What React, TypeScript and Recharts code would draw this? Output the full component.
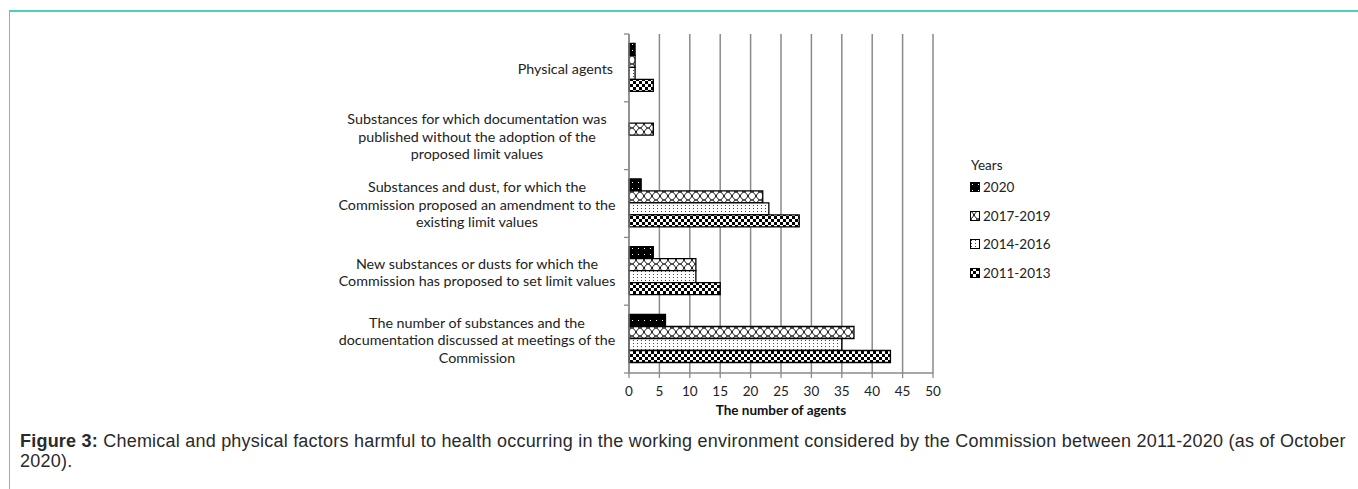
import { BarChart, Bar, XAxis, YAxis, CartesianGrid } from 'recharts';

// categories top to bottom, "\n" marks the wrapped lines of each label
const categories = [
  'Physical agents',
  'Substances for which documentation was\npublished without the adoption of the\nproposed limit values',
  'Substances and dust, for which the\nCommission proposed an amendment to the\nexisting limit values',
  'New substances or dusts for which the\nCommission has proposed to set limit values',
  'The number of substances and the\ndocumentation discussed at meetings of the\nCommission',
];

const years2020 = [1, 0, 2, 4, 6];
const years2017to2019 = [1, 4, 22, 11, 37];
const years2014to2016 = [1, 0, 23, 11, 35];
const years2011to2013 = [4, 0, 28, 15, 43];

const xTicks = [0, 5, 10, 15, 20, 25, 30, 35, 40, 45, 50];

const series = [
  { key: 'y2020', name: '2020', pattern: 'pat-2020' },
  { key: 'y2017', name: '2017-2019', pattern: 'pat-2017' },
  { key: 'y2014', name: '2014-2016', pattern: 'pat-2014' },
  { key: 'y2011', name: '2011-2013', pattern: 'pat-2011' },
];

const data = categories.map((name, i) => ({
  name,
  y2020: years2020[i],
  y2017: years2017to2019[i],
  y2014: years2014to2016[i],
  y2011: years2011to2013[i],
}));

const FONT = 'Lato, "Open Sans", sans-serif';
const AXIS_GRAY = '#8a8a8a';
const CHART_W = 1358;
const CHART_H = 430;
const MARGIN = { top: 34, right: 425, bottom: 0, left: 0 };
const X_AXIS_H = 57;
const PLOT_H = CHART_H - MARGIN.top - MARGIN.bottom - X_AXIS_H;

// Excel style category tick: wrapped text and tick marks on band edges
function CategoryTick(props: any) {
  const { x, y, payload } = props;
  const half = payload && payload.offset > 0 ? payload.offset : PLOT_H / categories.length / 2;
  const lines: string[] = String(payload.value).split('\n');
  const lineH = 17.5;
  const startY = y - ((lines.length - 1) * lineH) / 2;
  const single = lines.length === 1;
  return (
    <g>
      <line x1={x - 5} x2={x} y1={y - half} y2={y - half} stroke={AXIS_GRAY} strokeWidth={1.3} />
      {payload.index === categories.length - 1 && (
        <line x1={x - 5} x2={x} y1={y + half} y2={y + half} stroke={AXIS_GRAY} strokeWidth={1.3} />
      )}
      <text
        fontFamily={FONT}
        fontSize={14.3}
        fill="#222"
        textAnchor={single ? 'end' : 'middle'}
        dominantBaseline="central"
      >
        {lines.map((l, i) => (
          <tspan key={i} x={single ? x - 16 : x - 152} y={startY + i * lineH}>
            {l}
          </tspan>
        ))}
      </text>
    </g>
  );
}

function LegendMarker({ pattern }: { pattern: string }) {
  return (
    <svg width={10} height={10} style={{ display: 'block' }}>
      <rect x={0.5} y={0.5} width={9} height={9} fill={`url(#${pattern})`} stroke="#000" strokeWidth={1} />
    </svg>
  );
}

export default function App() {
  return (
    <div style={{ position: 'absolute', left: 0, top: 0, width: 1358, height: 489, background: '#fff', overflow: 'hidden' }}>
      <div
        style={{
          position: 'absolute',
          left: 9,
          top: 10,
          right: 0,
          bottom: 0,
          borderTop: '2px solid #4fcfbb',
          borderLeft: '1px solid #4fcfbb',
        }}
      />
      <div style={{ position: 'absolute', left: 0, top: 0 }}>
        <BarChart
          width={CHART_W}
          height={CHART_H}
          data={data}
          layout="vertical"
          margin={MARGIN}
          barCategoryGap="13.7%"
          barGap={0}
        >
          <defs>
            <pattern id="pat-2020" width={6} height={6} patternUnits="userSpaceOnUse">
              <rect width={6} height={6} fill="#000" />
              <rect x={2} y={2} width={1} height={1} fill="#fff" />
            </pattern>
            <pattern id="pat-2017" width={8} height={8} patternUnits="userSpaceOnUse">
              <rect width={8} height={8} fill="#fff" />
              <path d="M0,0 C3,0 5,8 8,8 M0,8 C3,8 5,0 8,0" stroke="#000" strokeWidth={1} fill="none" />
            </pattern>
            <pattern id="pat-2014" width={4} height={3} patternUnits="userSpaceOnUse">
              <rect width={4} height={3} fill="#fff" />
              <rect x={1} y={1} width={1} height={1} fill="#444" />
            </pattern>
            <pattern id="pat-2011" width={6} height={6} patternUnits="userSpaceOnUse">
              <rect width={6} height={6} fill="#fff" />
              <rect x={0} y={0} width={3} height={3} fill="#000" />
              <rect x={3} y={3} width={3} height={3} fill="#000" />
            </pattern>
          </defs>
          <CartesianGrid horizontal={false} stroke={AXIS_GRAY} strokeWidth={1.5} />
          <XAxis
            type="number"
            domain={[0, 50]}
            ticks={xTicks}
            height={X_AXIS_H}
            stroke={AXIS_GRAY}
            strokeWidth={1.3}
            tickSize={5}
            tickMargin={8}
            tick={{ fontFamily: FONT, fontSize: 13.5, fill: '#222' }}
            label={{
              value: 'The number of agents',
              position: 'insideBottom',
              offset: 15,
              style: { fontFamily: FONT, fontSize: 13.5, fontWeight: 700, fill: '#111' },
            }}
          />
          <YAxis
            type="category"
            dataKey="name"
            width={629}
            stroke={AXIS_GRAY}
            strokeWidth={1.3}
            tickLine={false}
            tickSize={0}
            tickMargin={0}
            interval={0}
            tick={<CategoryTick />}
          />
          {series.map((s) => (
            <Bar
              key={s.key}
              dataKey={s.key}
              name={s.name}
              fill={`url(#${s.pattern})`}
              stroke="#000"
              strokeWidth={1.3}
              isAnimationActive={false}
            />
          ))}
        </BarChart>
      </div>
      <div style={{ position: 'absolute', left: 971, top: 157, fontFamily: FONT, fontSize: 13.5, color: '#222' }}>
        <div style={{ height: 16, lineHeight: '16px' }}>Years</div>
        {series.map((s) => (
          <div key={s.key} style={{ display: 'flex', alignItems: 'center', height: 28.6, marginLeft: -1 }}>
            <LegendMarker pattern={s.pattern} />
            <span style={{ marginLeft: 3 }}>{s.name}</span>
          </div>
        ))}
      </div>
      <div
        style={{
          position: 'absolute',
          left: 20,
          top: 431,
          fontFamily: '"Liberation Sans", Arial, sans-serif',
          fontSize: 18,
          letterSpacing: 0.22,
          lineHeight: '20px',
          color: '#2a2a2a',
          whiteSpace: 'nowrap',
        }}
      >
        <b>Figure 3:</b> Chemical and physical factors harmful to health occurring in the working environment considered by the
        Commission between 2011-2020 (as of October
        <br />
        2020).
      </div>
    </div>
  );
}
